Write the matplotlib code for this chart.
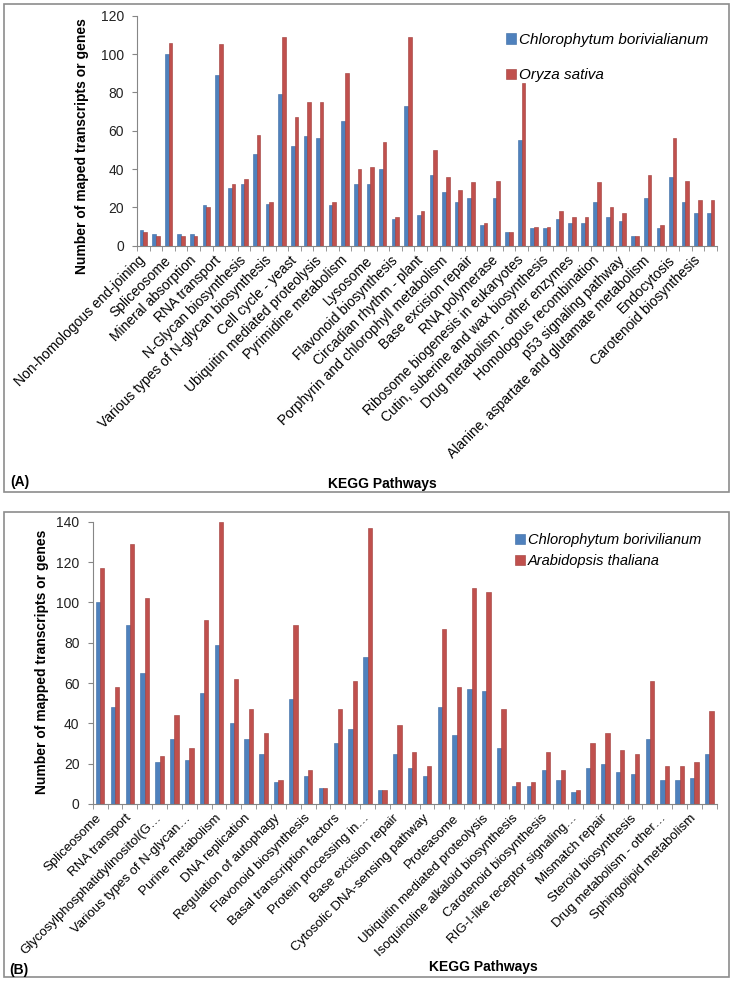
import numpy as np
import matplotlib.pyplot as plt
from matplotlib.patches import Rectangle

plt.rcParams['font.family'] = ['Liberation Sans', 'DejaVu Sans']

# (A) Chlorophytum vs Oryza sativa, only every other category is labelled
labels_a = ['Non-homologous end-joining', 'Spliceosome', 'Mineral absorption', 'RNA transport',
            'N-Glycan biosynthesis', 'Various types of N-glycan biosynthesis', 'Cell cycle - yeast',
            'Ubiquitin mediated proteolysis', 'Pyrimidine metabolism', 'Lysosome',
            'Flavonoid biosynthesis', 'Circadian rhythm - plant',
            'Porphyrin and chlorophyll metabolism', 'Base excision repair', 'RNA polymerase',
            'Ribosome biogenesis in eukaryotes', 'Cutin, suberine and wax biosynthesis',
            'Drug metabolism - other enzymes', 'Homologous recombination',
            'p53 signaling pathway', 'Alanine, aspartate and glutamate metabolism',
            'Endocytosis', 'Carotenoid biosynthesis']
cb_a = [8, 6, 100, 6, 6, 21, 89, 30, 32, 48, 22, 79, 52, 57, 56, 21, 65, 32, 32, 40, 14, 73, 16,
        37, 28, 23, 25, 11, 25, 7, 55, 9, 9, 14, 12, 12, 23, 15, 13, 5, 25, 9, 36, 23, 17, 17]
os_a = [7, 5, 106, 5, 5, 20, 105, 32, 35, 58, 23, 109, 67, 75, 75, 23, 90, 40, 41, 54, 15, 109, 18,
        50, 36, 29, 33, 12, 34, 7, 85, 10, 10, 18, 15, 15, 33, 20, 17, 5, 37, 11, 56, 34, 24, 24]

# (B) Chlorophytum vs Arabidopsis thaliana
labels_b = ['Spliceosome', 'RNA transport', 'Glycosylphosphatidylinositol(G…',
            'Various types of N-glycan…', 'Purine metabolism', 'DNA replication',
            'Regulation of autophagy', 'Flavonoid biosynthesis', 'Basal transcription factors',
            'Protein processing in…', 'Base excision repair', 'Cytosolic DNA-sensing pathway',
            'Proteasome', 'Ubiquitin mediated proteolysis', 'Isoquinoline alkaloid biosynthesis',
            'Carotenoid biosynthesis', 'RIG-I-like receptor signaling…', 'Mismatch repair',
            'Steroid biosynthesis', 'Drug metabolism - other…', 'Sphingolipid metabolism']
cb_b = [100, 48, 89, 65, 21, 32, 22, 55, 79, 40, 32, 25, 11, 52, 14, 8, 30, 37, 73, 7, 25,
        18, 14, 48, 34, 57, 56, 28, 9, 9, 17, 12, 6, 18, 20, 16, 15, 32, 12, 12, 13, 25]
at_b = [117, 58, 129, 102, 24, 44, 28, 91, 140, 62, 47, 35, 12, 89, 17, 8, 47, 61, 137, 7, 39,
        26, 19, 87, 58, 107, 105, 47, 11, 11, 26, 17, 7, 30, 35, 27, 25, 61, 19, 19, 21, 46]

blue = '#4f81bd'
red = '#c0504d'
grey = '#868686'

fig = plt.figure(figsize=(7.35, 9.83), dpi=100)


def panel(rect, labels, v1, v2, ymax, names, leg_pos, leg_space, lab_size, leg_size):
    ax = fig.add_axes(rect)
    n = len(v1)
    x = np.arange(n)
    w = 0.29
    ax.bar(x - w / 2, v1, w, color=blue, edgecolor='#3a6aa3', linewidth=0.4, label=names[0])
    ax.bar(x + w / 2, v2, w, color=red, edgecolor='#9e3b38', linewidth=0.4, label=names[1])
    ax.set_xlim(-0.5, n - 0.5)
    ax.set_ylim(0, ymax)
    ax.set_yticks(np.arange(0, ymax + 1, 20))
    ax.set_xticks(x[::2])
    ax.set_xticklabels(labels, rotation=45, ha='right', va='center', rotation_mode='anchor',
                       fontsize=lab_size)
    ax.set_xticks(np.arange(-0.5, n, 1), minor=True)
    ax.tick_params(axis='x', which='major', length=0, pad=9)
    ax.tick_params(axis='x', which='minor', length=3.5, color=grey, direction='out')
    ax.tick_params(axis='y', length=3.5, color=grey, labelsize=10, pad=6, labelcolor='#222222')
    for s in ['top', 'right']:
        ax.spines[s].set_visible(False)
    for s in ['left', 'bottom']:
        ax.spines[s].set_color(grey)
    ax.legend(loc='upper left', bbox_to_anchor=leg_pos, frameon=False, handlelength=0.7,
              handleheight=0.7, handletextpad=0.2, labelspacing=leg_space,
              prop={'style': 'italic', 'size': leg_size})
    return ax


panel([0.1864, 0.750, 0.789, 0.234], labels_a, cb_a, os_a, 120,
      ['Chlorophytum borivialianum', 'Oryza sativa'], (0.612, 0.985), 1.4, 10, 11)
panel([0.1261, 0.1821, 0.849, 0.2872], labels_b, cb_b, at_b, 140,
      ['Chlorophytum borivilianum', 'Arabidopsis thaliana'], (0.655, 1.005), 0.45, 9.5, 10.5)

fig.text(82 / 735, 1 - 146 / 983, 'Number of maped transcripts or genes', rotation=90,
         ha='center', va='center', fontsize=10, fontweight='bold')
fig.text(42 / 735, 1 - 662 / 983, 'Number of mapped transcripts or genes', rotation=90,
         ha='center', va='center', fontsize=10, fontweight='bold')
fig.text(382 / 735, 1 - 484 / 983, 'KEGG Pathways', ha='center', va='center',
         fontsize=10, fontweight='bold')
fig.text(483 / 735, 1 - 967 / 983, 'KEGG Pathways', ha='center', va='center',
         fontsize=10, fontweight='bold')
fig.text(10 / 735, 1 - 482 / 983, '(A)', ha='left', va='center', fontsize=10, fontweight='bold')
fig.text(9 / 735, 1 - 970 / 983, '(B)', ha='left', va='center', fontsize=10, fontweight='bold')

for y0, y1 in [(4, 492), (512, 977)]:
    fig.patches.append(Rectangle((4 / 735, 1 - y1 / 983), 725 / 735, (y1 - y0) / 983,
                                 transform=fig.transFigure, fill=False,
                                 edgecolor='#8c8c8c', linewidth=1.2))

fig.savefig('out.png', dpi=100)
